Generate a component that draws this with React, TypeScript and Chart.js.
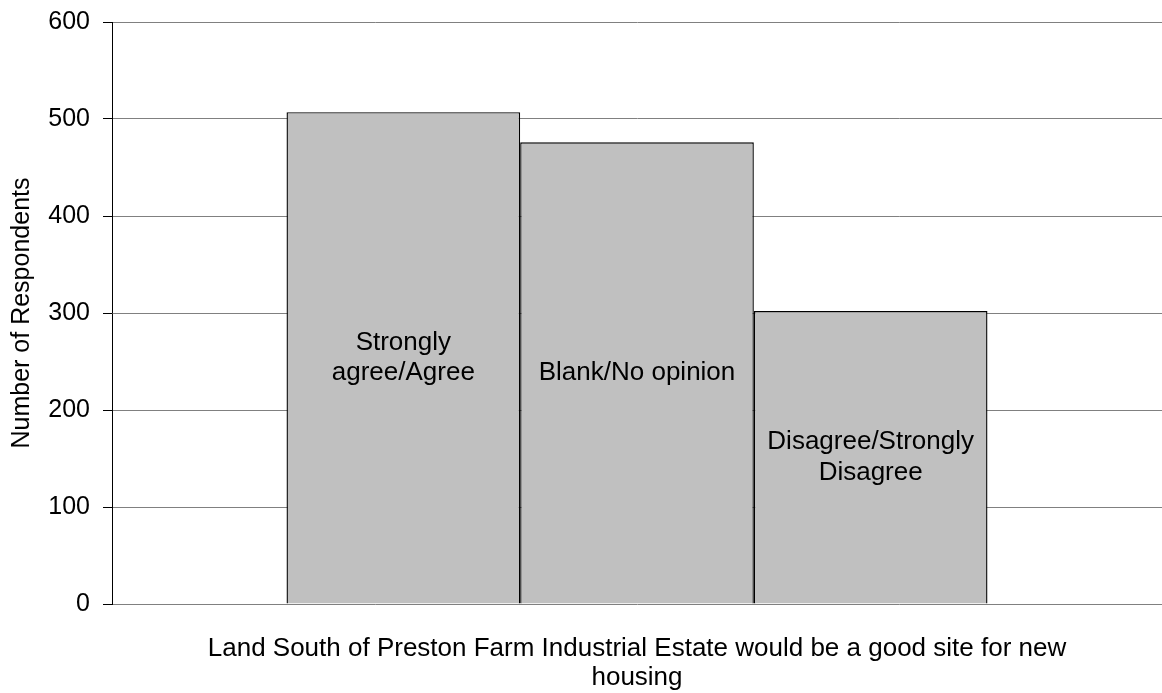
import React, { useEffect, useRef } from "react";
import { Chart, registerables } from "chart.js";

Chart.register(...registerables);

const categories: string[] = [""];
const seriesNames: string[][] = [
  ["Strongly", "agree/Agree"],
  ["Blank/No opinion"],
  ["Disagree/Strongly", "Disagree"],
];
const seriesValues: number[] = [507, 476, 302];
const yTicks: number[] = [0, 100, 200, 300, 400, 500, 600];
const yTitle = "Number of Respondents";
const xTitle: string[] = [
  "Land South of Preston Farm Industrial Estate would be a good site for new",
  "housing",
];

const FONT = "'Liberation Sans', Arial, sans-serif";

const barLabelPlugin = {
  id: "barLabels",
  afterDatasetsDraw(chart: any) {
    const ctx = chart.ctx;
    ctx.save();
    ctx.font = `26px ${FONT}`;
    ctx.fillStyle = "#000";
    ctx.textAlign = "center";
    ctx.textBaseline = "middle";
    const lh = 30.5;
    chart.data.datasets.forEach((ds: any, i: number) => {
      const meta = chart.getDatasetMeta(i);
      meta.data.forEach((bar: any) => {
        const lines: string[] = ds.textLines;
        const cy = (bar.y + bar.base) / 2;
        const start = cy - ((lines.length - 1) * lh) / 2;
        lines.forEach((t, k) => ctx.fillText(t, bar.x, start + k * lh));
      });
    });
    ctx.restore();
  },
};

export default function App() {
  const ref = useRef<HTMLCanvasElement | null>(null);
  useEffect(() => {
    document.body.style.margin = "0";
    const chart = new Chart(ref.current!, {
      type: "bar",
      data: {
        labels: categories,
        datasets: seriesValues.map((v, i) => ({
          label: seriesNames[i].join(" "),
          textLines: seriesNames[i],
          data: [v],
          backgroundColor: "#c0c0c0",
          borderColor: "#000",
          borderWidth: 1.4,
          categoryPercentage: 0.6676,
          barPercentage: 1,
        })) as any,
      },
      options: {
        animation: false,
        responsive: true,
        maintainAspectRatio: false,
        layout: { padding: { top: 22, right: 0, bottom: 0, left: 0 } },
        plugins: { legend: { display: false }, tooltip: { enabled: false } },
        scales: {
          x: {
            grid: { display: false, drawTicks: false },
            border: { display: false },
            ticks: { display: false },
            title: {
              display: true,
              text: xTitle,
              color: "#000",
              font: { family: FONT, size: 26, lineHeight: 29 / 26 },
              padding: { top: 30.5, bottom: 0.5 },
            },
          },
          y: {
            min: 0,
            max: 600,
            afterFit: (scale: any) => {
              scale.width = 112;
              scale.paddingTop = 0;
              scale.paddingBottom = 0;
            },
            afterBuildTicks: (scale: any) => {
              scale.ticks = yTicks.map((v) => ({ value: v }));
            },
            grid: {
              color: "#808080",
              lineWidth: 1,
              tickColor: "#000",
              tickLength: 9,
            },
            border: { display: true, color: "#000", width: 1 },
            ticks: {
              color: "#000",
              padding: 13,
              font: { family: FONT, size: 25 },
            },
            title: {
              display: true,
              text: yTitle,
              color: "#000",
              font: { family: FONT, size: 25, lineHeight: 29 / 25 },
              padding: { top: 7.5, bottom: 0 },
            },
          },
        },
      },
      plugins: [barLabelPlugin],
    });
    return () => chart.destroy();
  }, []);
  return (
    <div style={{ position: "absolute", left: 0, top: 0, width: 1162, height: 693 }}>
      <canvas ref={ref} />
    </div>
  );
}
